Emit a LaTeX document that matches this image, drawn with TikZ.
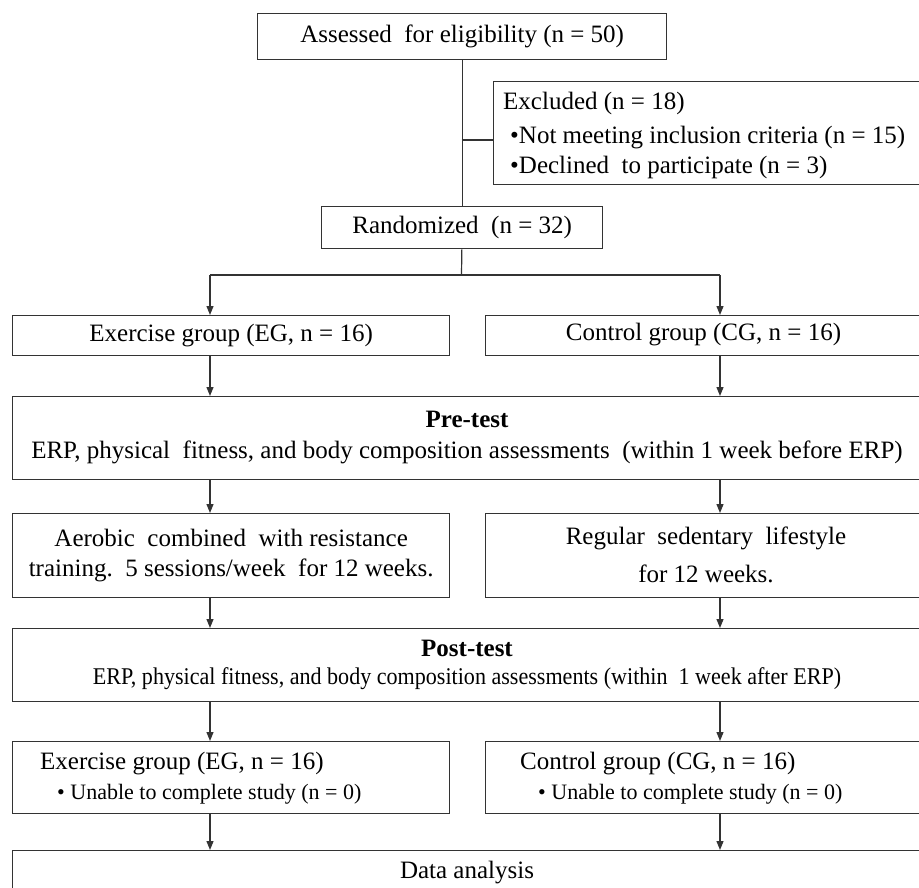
\documentclass[tikz,border=0pt]{standalone}
\usepackage{fontspec}
\setmainfont{Liberation Serif}
\usepackage{graphicx}
\usetikzlibrary{arrows.meta}
\begin{document}
\begin{tikzpicture}[x=1pt,y=-1pt,
  box/.style={draw=black!80, line width=1.3pt, inner sep=0pt, anchor=north west,
    font=\fontsize{25}{30}\selectfont, align=center},
  txt/.style={inner sep=0pt, anchor=west, align=left, font=\fontsize{25}{30}\selectfont},
  ctxt/.style={inner sep=0pt, anchor=center, align=center, font=\fontsize{25}{30}\selectfont},
  ln/.style={draw=black!80, line width=1.2pt},
  arr/.style={ln, -{Triangle[width=7pt,length=9pt]}}]
\useasboundingbox (0,0) rectangle (919,888);
\clip (0,0) rectangle (919,888);
\fill[white] (0,0) rectangle (919,888);

\coordinate (cL) at (210,0);
\coordinate (cR) at (720,0);
\coordinate (jx) at (461.5,140);
\coordinate (split) at (461.5,275);

\node[box, minimum width=409pt, minimum height=46pt] (assess) at (257,13)
  {Assessed\ \ for eligibility (n = 50)};
\node[box, minimum width=470pt, minimum height=103pt] (excl) at (493,81) {};
\node[txt] (excltxt) at (503,135)
  {Excluded (n = 18)\\[4pt]
   \hspace*{7pt}•Not meeting inclusion criteria (n = 15)\\
   \hspace*{7pt}•Declined\ \ to participate (n = 3)};
\node[box, minimum width=281pt, minimum height=42pt] (rand) at (321,206)
  {Randomized\ \ (n = 32)};

\node[box, minimum width=437pt, minimum height=40pt] (eg) at (12,315)
  {Exercise group (EG, n = 16)};
\node[box, minimum width=475pt, minimum height=40pt] (cg) at (485,315) {};
\node[ctxt] (cgtxt) at (703.5,335) {Control group (CG, n = 16)};

\node[box, minimum width=948pt, minimum height=83pt] (pre) at (12,396) {};
\node[ctxt] (pretxt) at (467,437.5)
  {\textbf{Pre-test}\\[1pt]
   ERP, physical\ \ fitness, and body composition assessments\ \ (within 1 week before ERP)};

\node[box, minimum width=437pt, minimum height=84pt] (aer) at (12,513)
  {Aerobic\ \ combined\ \ with resistance\\
   training.\ \ 5 sessions/week\ \ for 12 weeks.};
\node[box, minimum width=475pt, minimum height=84pt] (reg) at (485,513) {};
\node[ctxt] (regtxt) at (706,555)
  {Regular\ \ sedentary\ \ lifestyle\\[8pt]
   for 12 weeks.};

\node[box, minimum width=948pt, minimum height=73pt] (post) at (12,628) {};
\node[ctxt] (posttxt) at (467,664.5)
  {\textbf{Post-test}\\[-2pt]
   \scalebox{0.92}[1]{\fontsize{24}{28}\selectfont ERP, physical fitness, and body composition assessments (within\ \ 1 week after ERP)}};

\node[box, minimum width=437pt, minimum height=72pt] (eg2) at (12,741) {};
\node[txt] (eg2txt) at (40,778)
  {Exercise group (EG, n = 16)\\
   \hspace*{17pt}{\fontsize{22}{30}\selectfont • Unable to complete study (n = 0)}};
\node[box, minimum width=475pt, minimum height=72pt] (cg2) at (485,741) {};
\node[txt] (cg2txt) at (520,778)
  {Control group (CG, n = 16)\\
   \hspace*{18pt}{\fontsize{22}{30}\selectfont • Unable to complete study (n = 0)}};

\node[box, minimum width=948pt, minimum height=60pt] (data) at (12,850) {};
\node[ctxt] (datatxt) at (467,873) {Data analysis};

\draw[ln] (assess) -- (rand);
\draw[ln] (jx) -- (jx -| excl.west);
\draw[ln] (rand) -- (split);
\draw[ln] (split -| cL) -- (split -| cR);
\draw[arr] (split -| cL) -- (eg.north -| cL);
\draw[arr] (split -| cR) -- (cg.north -| cR);
\draw[arr] (eg.south -| cL) -- (pre.north -| cL);
\draw[arr] (cg.south -| cR) -- (pre.north -| cR);
\draw[arr] (pre.south -| cL) -- (aer.north -| cL);
\draw[arr] (pre.south -| cR) -- (reg.north -| cR);
\draw[arr] (aer.south -| cL) -- (post.north -| cL);
\draw[arr] (reg.south -| cR) -- (post.north -| cR);
\draw[arr] (post.south -| cL) -- (eg2.north -| cL);
\draw[arr] (post.south -| cR) -- (cg2.north -| cR);
\draw[arr] (eg2.south -| cL) -- (data.north -| cL);
\draw[arr] (cg2.south -| cR) -- (data.north -| cR);
\end{tikzpicture}
\end{document}
